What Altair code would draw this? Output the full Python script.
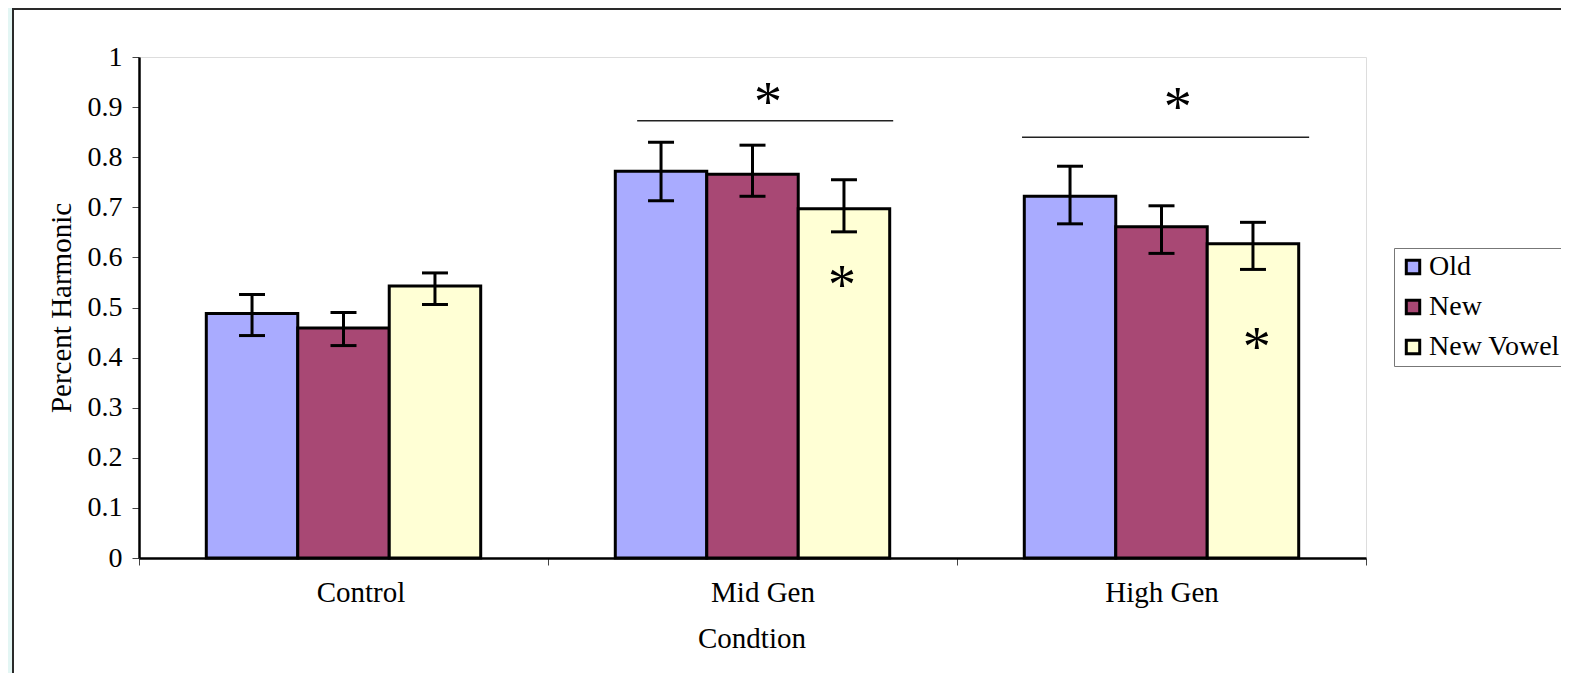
import altair as alt
import pandas as pd

# ---- data ----
conditions = ["Control", "Mid Gen", "High Gen"]
groups = ["Old", "New", "New Vowel"]
colors = ["#a9abff", "#a84874", "#ffffd5"]

old_mean = [0.488, 0.772, 0.722]
old_lo = [0.444, 0.713, 0.667]
old_hi = [0.526, 0.830, 0.782]

new_mean = [0.459, 0.766, 0.661]
new_lo = [0.424, 0.722, 0.608]
new_hi = [0.490, 0.824, 0.703]

nv_mean = [0.543, 0.697, 0.627]
nv_lo = [0.506, 0.651, 0.576]
nv_hi = [0.569, 0.755, 0.670]

y_ticks = [0, 0.1, 0.2, 0.3, 0.4, 0.5, 0.6, 0.7, 0.8, 0.9, 1]

# significance annotations (x in category units 0..3, y in data units)
sig_line_x1 = [1.218, 2.159]
sig_line_x2 = [1.844, 2.861]
sig_line_y = [0.873, 0.840]
star_x = [1.538, 2.540, 1.719, 2.733]
star_y = [0.925, 0.915, 0.559, 0.436]

rows = []
for g, m, lo, hi in [("Old", old_mean, old_lo, old_hi),
                     ("New", new_mean, new_lo, new_hi),
                     ("New Vowel", nv_mean, nv_lo, nv_hi)]:
    for c, a, b, d in zip(conditions, m, lo, hi):
        rows.append({"cond": c, "grp": g, "mean": a, "lo": b, "hi": d})
df = pd.DataFrame(rows)

lines_df = pd.DataFrame({"x1": sig_line_x1, "x2": sig_line_x2, "y": sig_line_y})
stars_df = pd.DataFrame({"x": star_x, "y": star_y, "t": ["*"] * len(star_x)})
one = pd.DataFrame({"a": [0]})

W, H = 1227, 501
FONT = "Liberation Serif"

y_scale = alt.Scale(domain=[0, 1], nice=False, zero=True)
y_axis = alt.Axis(
    title="Percent Harmonic", values=y_ticks, format="~f", zindex=1,
    labelFont=FONT, labelFontSize=28, labelColor="black", labelPadding=10,
    tickSize=7, tickColor="#444", tickWidth=1,
    domainColor="black", domainWidth=2.5, grid=False,
    titleFont=FONT, titleFontSize=29, titleFontWeight="normal", titleColor="black",
    titleAngle=-90, titleBaseline="alphabetic", titleAlign="center",
    titleX=-69, titleY=H / 2,
)
x_scale = alt.Scale(paddingInner=0, paddingOuter=0)
x_axis = alt.Axis(
    title="Condtion", labelAngle=0, tickBand="extent", zindex=1,
    labelFont=FONT, labelFontSize=29, labelColor="black",
    labelBaseline="alphabetic", labelPadding=36,
    labelOffset=alt.ExprRef("datum.value == 'Control' ? 17 : (datum.value == 'Mid Gen' ? 10 : 0)"),
    tickSize=7, tickColor="#444", tickWidth=1,
    domainColor="black", domainWidth=2.5, grid=False,
    titleFont=FONT, titleFontSize=29, titleFontWeight="normal", titleColor="black",
    titleBaseline="alphabetic", titleX=W / 2 - 1, titleY=89,
)

def X():
    return alt.X("cond:N", sort=conditions, scale=x_scale, axis=x_axis)

def XO():
    return alt.XOffset("grp:N", sort=groups,
                       scale=alt.Scale(domain=groups, paddingInner=0, paddingOuter=0.7357))

def Y(field):
    return alt.Y(f"{field}:Q", scale=y_scale, axis=y_axis)

# page decoration: cyan strip + dark border of the white box
strip = alt.Chart(one).mark_rect(fill="#e3f6f4").encode(
    x=alt.value(-131), x2=alt.value(-127), y=alt.value(-49), y2=alt.value(3000)
)
border_left = alt.Chart(one).mark_rule(color="#2a2a2a", strokeWidth=2).encode(
    x=alt.value(-126), y=alt.value(-48), y2=alt.value(3000)
)
border_top = alt.Chart(one).mark_rule(color="#2a2a2a", strokeWidth=2).encode(
    x=alt.value(-127), x2=alt.value(3000), y=alt.value(-48)
)

bars = alt.Chart(df).mark_bar(stroke="black", strokeWidth=3).encode(
    x=X(), xOffset=XO(), y=Y("mean"),
    fill=alt.Fill("grp:N", sort=groups,
                  scale=alt.Scale(domain=groups, range=colors),
                  legend=alt.Legend(
                      orient="none", legendX=1255, legendY=191, title=None,
                      symbolType="square", symbolSize=180,
                      symbolStrokeColor="black", symbolStrokeWidth=3,
                      labelFont=FONT, labelFontSize=28, labelColor="black",
                      labelOffset=2, rowPadding=12, padding=5,
                      strokeColor="#777", fillColor="white",
                  )),
)

err_rule = alt.Chart(df).mark_rule(color="black", strokeWidth=3).encode(
    x=X(), xOffset=XO(), y=Y("lo"), y2="hi:Q"
)
err_lo = alt.Chart(df).mark_tick(color="black", thickness=3, size=26, orient="horizontal", opacity=1).encode(
    x=X(), xOffset=XO(), y=Y("lo")
)
err_hi = alt.Chart(df).mark_tick(color="black", thickness=3, size=26, orient="horizontal", opacity=1).encode(
    x=X(), xOffset=XO(), y=Y("hi")
)

xq = alt.Scale(domain=[0, 3], nice=False, zero=False)
sig_lines = alt.Chart(lines_df).mark_rule(color="#222", strokeWidth=1.5).encode(
    x=alt.X("x1:Q", scale=xq, axis=None), x2="x2:Q", y=Y("y")
)
stars = alt.Chart(stars_df).mark_text(
    font=FONT, fontSize=56, color="black", baseline="alphabetic", dy=26
).encode(
    x=alt.X("x:Q", scale=xq, axis=None), y=Y("y"), text="t:N"
)

main = alt.layer(bars, err_rule, err_lo, err_hi)
annot = alt.layer(sig_lines, stars)

chart = alt.layer(strip, border_left, border_top, main, annot).resolve_scale(x="independent").properties(
    width=W, height=H,
    autosize=alt.AutoSizeParams(type="none"),
    padding={"left": 131, "top": 49, "right": 195, "bottom": 115},
    background="white",
).configure_view(stroke="black", strokeWidth=2.5).configure(font=FONT)

chart.save("out.html", embed_options={"renderer": "svg", "actions": False})
